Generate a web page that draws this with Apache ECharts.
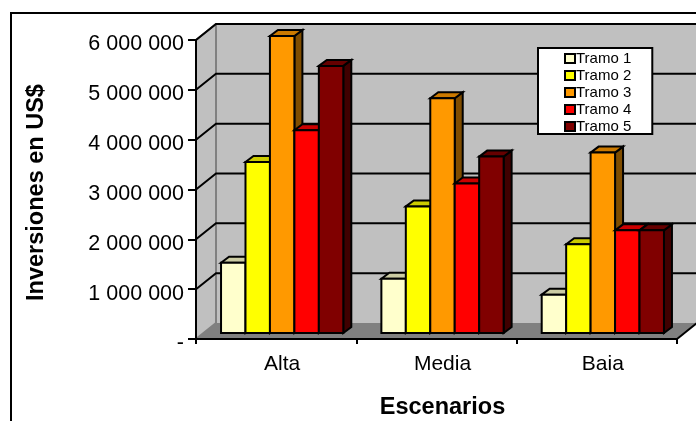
<!DOCTYPE html>
<html><head><meta charset="utf-8">
<style>html,body{margin:0;padding:0;background:#fff}#c{width:696px;height:421px}</style>
<script src="https://cdn.jsdelivr.net/npm/echarts@6/dist/echarts.min.js"></script>
</head><body><div id="c"></div>
<script>
const categories = ['Alta', 'Media', 'Baia'];
const seriesNames = ['Tramo 1', 'Tramo 2', 'Tramo 3', 'Tramo 4', 'Tramo 5'];
const tramo1 = [1410000, 1090000, 770000];
const tramo2 = [3430000, 2540000, 1780000];
const tramo3 = [5960000, 4710000, 3620000];
const tramo4 = [4070000, 3000000, 2060000];
const tramo5 = [5360000, 3540000, 2060000];
const seriesValues = [tramo1, tramo2, tramo3, tramo4, tramo5];
const colors = ['#ffffcc', '#ffff00', '#ff9900', '#ff0000', '#800000'];
const topColors = ['#cccca3', '#cccc00', '#cc7a00', '#cc0000', '#660000'];
const sideColors = ['#808066', '#808000', '#804d00', '#800000', '#400000'];
const tickValues = [0, 1000000, 2000000, 3000000, 4000000, 5000000, 6000000];
const tickLabels = ['-', '1 000 000', '2 000 000', '3 000 000', '4 000 000', '5 000 000', '6 000 000'];

const FONT = '"Liberation Sans", Arial, sans-serif';
const WALL_DX = 20, WALL_DY = -16, BAR_DX = 6, BAR_DY = -6, DEPTH_DX = 8, DEPTH_DY = -6;
const BAR_FRACTION = 0.1525;

function wallsRender(params, api) {
  const band = api.size([1, 0])[0];
  const x0 = api.coord([0, 0])[0] - band / 2;
  const x1 = api.coord([categories.length - 1, 0])[0] + band / 2;
  const yB = api.coord([0, 0])[1];
  const yT = api.coord([0, tickValues[tickValues.length - 1]])[1];
  const poly = (points, fill, stroke, lw) => ({
    type: 'polygon', shape: { points },
    style: { fill, stroke: stroke || null, lineWidth: lw || 0 }
  });
  return { type: 'group', children: [
    poly([[x0, yB], [x0 + WALL_DX, yB + WALL_DY], [x1 + WALL_DX, yB + WALL_DY], [x1, yB]], '#808080'),
    poly([[x0, yT], [x0 + WALL_DX, yT + WALL_DY], [x0 + WALL_DX, yB + WALL_DY], [x0, yB]], '#c0c0c0'),
    { type: 'rect', shape: { x: x0 + WALL_DX, y: yT + WALL_DY, width: x1 - x0, height: yB - yT }, style: { fill: '#c0c0c0' } },
    { type: 'polyline', shape: { points: [[x0, yT], [x0 + WALL_DX, yT + WALL_DY], [x1 + WALL_DX, yT + WALL_DY]] }, style: { fill: null, stroke: '#808080', lineWidth: 2 } },
    { type: 'polyline', shape: { points: [[x0 + WALL_DX, yT + WALL_DY], [x0 + WALL_DX, yB + WALL_DY], [x0, yB]] }, style: { fill: null, stroke: '#808080', lineWidth: 2 } },
    { type: 'line', shape: { x1: x1, y1: yB, x2: x1 + WALL_DX, y2: yB + WALL_DY }, style: { stroke: '#000', lineWidth: 2 } }
  ] };
}

function gridRender(params, api) {
  const v = api.value(0);
  const band = api.size([1, 0])[0];
  const x0 = api.coord([0, 0])[0] - band / 2;
  const x1 = api.coord([categories.length - 1, 0])[0] + band / 2;
  const y = api.coord([0, v])[1];
  return { type: 'polyline', shape: { points: [[x0, y], [x0 + WALL_DX, y + WALL_DY], [x1 + WALL_DX, y + WALL_DY]] },
    style: { fill: null, stroke: '#000', lineWidth: 2 } };
}

function barRender(i) {
  return function (params, api) {
    const band = api.size([1, 0])[0];
    const w = band * BAR_FRACTION;
    const c = api.coord([api.value(0), api.value(1)]);
    const b = api.coord([api.value(0), 0]);
    const l = c[0] + BAR_DX + (i - 2.5) * w, r = l + w;
    const t = c[1] + BAR_DY, bot = b[1] + BAR_DY;
    const st = (fill) => ({ fill, stroke: '#000', lineWidth: 2, lineJoin: 'miter' });
    return { type: 'group', children: [
      { type: 'polygon', shape: { points: [[r, t], [r + DEPTH_DX, t + DEPTH_DY], [r + DEPTH_DX, bot + DEPTH_DY], [r, bot]] }, style: st(sideColors[i]) },
      { type: 'polygon', shape: { points: [[l, t], [l + DEPTH_DX, t + DEPTH_DY], [r + DEPTH_DX, t + DEPTH_DY], [r, t]] }, style: st(topColors[i]) },
      { type: 'rect', shape: { x: l, y: t, width: w, height: bot - t }, style: st(colors[i]) }
    ] };
  };
}

const chart = echarts.init(document.getElementById('c'), null, { renderer: 'canvas' });
chart.setOption({
  animation: false,
  backgroundColor: '#fff',
  textStyle: { fontFamily: FONT },
  grid: { left: 196, right: 19, top: 40, bottom: 82, containLabel: false, outerBoundsMode: 'none' },
  graphic: [{ type: 'rect', z: -1, silent: true, shape: { x: 11, y: 13, width: 800, height: 800 }, style: { fill: null, stroke: '#000', lineWidth: 2 } }],
  legend: {
    data: seriesNames, orient: 'vertical', left: 538, top: 48,
    padding: [3, 21, 0, 26], itemGap: 2, itemWidth: 10, itemHeight: 9, icon: 'rect',
    backgroundColor: '#fff', borderColor: '#000', borderWidth: 2, borderRadius: 0,
    itemStyle: { borderColor: '#000', borderWidth: 2 },
    textStyle: { fontSize: 15, color: '#000', fontFamily: FONT, padding: [0, 0, 0, -4] }
  },
  xAxis: {
    type: 'category', data: categories, z: 5,
    axisLine: { lineStyle: { color: '#000', width: 2 } },
    axisTick: { show: true, alignWithLabel: false, length: 5, lineStyle: { color: '#000', width: 2 } },
    axisLabel: { fontSize: 21, color: '#000', margin: 15, fontFamily: FONT, padding: [0, 0, 0, 12] },
    name: 'Escenarios', nameLocation: 'middle', nameGap: 57,
    nameTextStyle: { fontSize: 23.5, fontWeight: 'bold', color: '#000', fontFamily: FONT, padding: [0, 0, 0, 12] }
  },
  yAxis: {
    type: 'value', min: 0, max: 6000000, interval: 1000000, z: 5,
    splitLine: { show: false },
    axisLine: { show: true, lineStyle: { color: '#000', width: 2 } },
    axisTick: { show: true, length: 8, lineStyle: { color: '#000', width: 2 } },
    axisLabel: { fontSize: 21.5, color: '#000', margin: 12, fontFamily: FONT, verticalAlign: 'top', lineHeight: 9,
      formatter: (v) => tickLabels[tickValues.indexOf(v)] },
    name: 'Inversiones en US$', nameLocation: 'middle', nameGap: 147, nameRotate: 90,
    nameTextStyle: { fontSize: 23.5, fontWeight: 'bold', color: '#000', fontFamily: FONT, padding: [0, 6, 0, 0] }
  },
  series: [
    { type: 'custom', name: 'walls', z: 0, silent: true, clip: false, renderItem: wallsRender, data: [[0]], encode: { x: 0 }, legendHoverLink: false },
    { type: 'custom', name: 'gridlines', z: 1, silent: true, clip: false, renderItem: gridRender, data: tickValues.slice(1).map(v => [v]), encode: { y: 0 } }
  ].concat(seriesNames.map((n, i) => ({
    type: 'custom', name: n, z: 2, clip: false, renderItem: barRender(i),
    itemStyle: { color: colors[i] },
    encode: { x: 0, y: 1 },
    data: seriesValues[i].map((v, k) => [k, v])
  })))
});
</script></body></html>
